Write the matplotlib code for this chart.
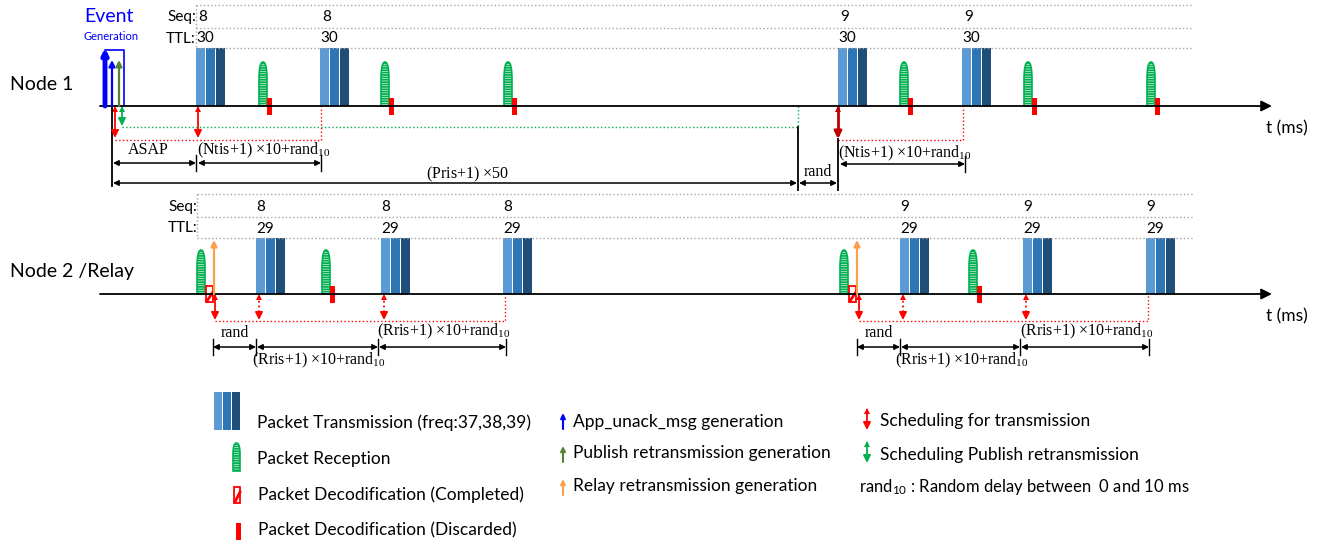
import matplotlib
matplotlib.use('Agg')
import matplotlib.pyplot as plt
from matplotlib.patches import Rectangle, PathPatch
from matplotlib.path import Path

# ---------------- data (event times on the diagram time axis) ----------------
node1_tx = [196, 320, 838, 962]          # packet transmissions node 1
node1_seq = ['8', '8', '9', '9']
node1_ttl = ['30', '30', '30', '30']
node1_rx = [259, 381, 504, 900, 1024, 1147]   # receptions (discarded)
node2_tx = [256, 381, 503, 900, 1023, 1146]
node2_seq = ['8', '8', '8', '9', '9', '9']
node2_ttl = ['29', '29', '29', '29', '29', '29']
node2_rx = [197, 322, 840, 969]
node2_rx_kept = [True, False, True, False]
freq_labels = ['37', '38', '39']

SANS = ['Lato', 'DejaVu Sans']
SERIF = ['Liberation Serif', 'DejaVu Serif']
BAR_COLORS = ['#5B9BD5', '#2E75B6', '#1F4E79']
GREEN = '#00B050'
OLIVE = '#548235'
RED = '#FF0000'
DARKRED = '#C00000'
ORANGE = '#F9A04A'
BLUE = '#0000FF'
GREY = '#A6A6A6'
LEG_FS = 12.5

plt.rcParams['hatch.linewidth'] = 1.3

W, H = 1328, 544
fig = plt.figure(figsize=(W / 100, H / 100), dpi=100)
ax = fig.add_axes([0, 0, 1, 1])
ax.set_xlim(0, W)
ax.set_ylim(H, 0)
ax.axis('off')

Y1, Y2 = 106, 294   # timelines


def arrow(x0, y0, x1, y1, color, lw=1.2, style='-|>', ms=8, ls='-'):
    ax.annotate('', xy=(x1, y1), xytext=(x0, y0),
                arrowprops=dict(arrowstyle=style, color=color, lw=lw, ls=ls,
                                mutation_scale=ms, shrinkA=0, shrinkB=0))


def sched(x, y0, y1, color=RED, lw=1.3, ls='-'):
    ax.plot([x, x], [y0 + 2, y1 - 5], color=color, lw=lw, ls=ls)
    arrow(x, y1 - 7, x, y1, color, lw=lw, ms=11)
    ax.plot([x], [y0 + 3], marker='^', ms=5, color=color, mew=0)


def burst(x, ytop, ybot):
    for i, c in enumerate(BAR_COLORS):
        ax.bar(x + i * 10, ybot - ytop, width=9.2, bottom=ytop, align='edge',
               color=c, edgecolor='none')


def reception(x, yb, h, w=8):
    yt = yb - h
    ys = yt + 0.4 * h
    verts = [(x, yb), (x, ys), (x, yt), (x + w / 2, yt), (x + w, yt), (x + w, ys),
             (x + w, yb), (x, yb)]
    codes = [Path.MOVETO, Path.LINETO, Path.CURVE3, Path.CURVE3, Path.CURVE3,
             Path.CURVE3, Path.LINETO, Path.CLOSEPOLY]
    ax.add_patch(PathPatch(Path(verts, codes), facecolor='white', edgecolor=GREEN,
                           hatch='-------', lw=1.2))


def discard(x, yc):
    ax.add_patch(Rectangle((x, yc - 8), 4.5, 17, color=RED, lw=0))


def decoded(x, yc):
    ax.add_patch(Rectangle((x, yc - 8), 7, 16, facecolor='white', edgecolor=RED, lw=1.3))
    ax.plot([x + 1, x + 7], [yc + 7, yc - 2], color=RED, lw=2)


def dim(x0, x1, y, tick=(True, True)):
    arrow(x0, y, x1, y, 'black', lw=1.1, style='<|-|>', ms=8)
    for flag, xx in zip(tick, (x0, x1)):
        if flag:
            ax.plot([xx, xx], [y - 8, y + 8], color='black', lw=1)


# ---------------- node labels, timelines ----------------
ax.text(10, 85, 'Node 1', fontsize=14, family=SANS, va='center')
ax.text(10, 271, 'Node 2 /Relay', fontsize=14, family=SANS, va='center')
for yl in (Y1, Y2):
    arrow(100, yl, 1272, yl, 'black', lw=1.3, ms=16)
ax.text(1266, Y1 + 22, 't (ms)', fontsize=12.5, family=SANS, va='center')
ax.text(1266, Y2 + 22, 't (ms)', fontsize=12.5, family=SANS, va='center')

# dotted Seq/TTL boxes
for (xl, ys) in ((196, (5, 28, 48)), (197, (194, 217, 238))):
    for yy in ys:
        ax.plot([xl, 1193], [yy, yy], color=GREY, lw=1, ls=':')
    ax.plot([xl, xl], [ys[0], ys[2]], color=GREY, lw=1, ls=':')
ax.text(196, 17, 'Seq:', ha='right', va='center', fontsize=11, family=SANS)
ax.text(196, 39, 'TTL:', ha='right', va='center', fontsize=11, family=SANS)
ax.text(197, 207, 'Seq:', ha='right', va='center', fontsize=11, family=SANS)
ax.text(197, 228, 'TTL:', ha='right', va='center', fontsize=11, family=SANS)

# ---------------- Node 1 ----------------
for x, s, t in zip(node1_tx, node1_seq, node1_ttl):
    burst(x, 48, Y1)
    ax.text(x + 2, 17, s, va='center', fontsize=11, family=SANS)
    ax.text(x, 38, t, va='center', fontsize=11, family=SANS)
for x in node1_rx:
    reception(x, Y1, 44)
    discard(x + 8, Y1)

# event generation
ax.text(84, 16, 'Event', color=BLUE, fontsize=14, family=SANS, va='center')
ax.text(84, 37, 'Generation', color=BLUE, fontsize=8, family=SANS, va='center')
ax.plot([105, 124, 124], [50, 50, Y1], color=BLUE, lw=1.2)
arrow(105, Y1, 105, 48, BLUE, lw=3.5, ms=8)
arrow(112, Y1, 112, 60, BLUE, lw=1.6, ms=9)
arrow(119, Y1, 119, 60, OLIVE, lw=1.6, ms=9)

# scheduling node 1
sched(115, Y1, 138)
sched(198, Y1, 138)
ax.plot([115, 321, 321], [140, 140, Y1], color=RED, lw=1, ls=':')
sched(122, Y1, 126, color=GREEN)
ax.plot([122, 798, 798], [127, 127, Y1], color=GREEN, lw=1, ls=':')
sched(838, Y1, 139, color=DARKRED, lw=2)
ax.plot([838, 963, 963], [140, 140, Y1], color=RED, lw=1, ls=':')

# black reference lines and dimensions node 1
ax.plot([112, 112], [Y1, 186], color='black', lw=1.3)
ax.plot([798, 798], [127, 190], color='black', lw=1.3)
ax.plot([838, 838], [139, 190], color='black', lw=1.3)
dim(113, 196, 163, tick=(False, True))
dim(198, 321, 163, tick=(False, True))
ax.text(148, 150, 'ASAP', fontsize=11.5, family=SERIF, ha='center', va='center')
ax.text(197, 150, r'(Ntis+1) $\mathregular{\times}$10+rand$\mathregular{_{10}}$',
        fontsize=11.5, family=SERIF, va='center')
dim(113, 797, 183, tick=(False, False))
ax.text(467, 174, r'(Pris+1) $\mathregular{\times}$50', fontsize=11.5, family=SERIF,
        ha='center', va='center')
dim(799, 837, 183, tick=(False, False))
ax.text(818, 172, 'rand', fontsize=11.5, family=SERIF, ha='center', va='center')
dim(840, 965, 164, tick=(False, True))
ax.text(838, 153, r'(Ntis+1) $\mathregular{\times}$10+rand$\mathregular{_{10}}$',
        fontsize=11.5, family=SERIF, va='center')

# ---------------- Node 2 ----------------
for x, s, t in zip(node2_tx, node2_seq, node2_ttl):
    burst(x, 238, Y2)
    ax.text(x + 5, 207, s, ha='center', va='center', fontsize=11, family=SANS)
    ax.text(x, 229, t, va='center', fontsize=11, family=SANS)
for x, kept in zip(node2_rx, node2_rx_kept):
    reception(x, Y2, 44)
    if kept:
        decoded(x + 9, Y2)
        arrow(x + 17, Y2, x + 17, 240, ORANGE, lw=1.6, ms=9)
    else:
        discard(x + 8, Y2)

for start, txs in ((215, node2_tx[:3]), (859, node2_tx[3:])):
    sched(start, Y2, 320)
    sched(txs[0] + 3, Y2, 320, ls=':')
    sched(txs[1] + 3, Y2, 320, ls=':')
    ax.plot([start, txs[2] + 2, txs[2] + 2], [321, 321, Y2], color=RED, lw=1, ls=':')
    r0 = start - 2
    dim(r0, txs[0], 347)
    dim(txs[0] + 1, txs[1] - 3, 347, tick=(False, True))
    dim(txs[1] - 2, txs[2] + 3, 347, tick=(False, True))
    ax.text((r0 + txs[0]) / 2, 333, 'rand', fontsize=11.5, family=SERIF,
            ha='center', va='center')
    ax.text((txs[0] + txs[1]) / 2, 360,
            r'(Rris+1) $\mathregular{\times}$10+rand$\mathregular{_{10}}$',
            fontsize=11.5, family=SERIF, ha='center', va='center')
    ax.text((txs[1] + txs[2]) / 2 + 2, 331,
            r'(Rris+1) $\mathregular{\times}$10+rand$\mathregular{_{10}}$',
            fontsize=11.5, family=SERIF, ha='center', va='center')

# ---------------- legend ----------------
for i, c in enumerate(BAR_COLORS):
    ax.bar(214 + i * 9, 38, width=8.2, bottom=392, align='edge', color=c)
ax.text(257, 423, 'Packet Transmission (freq:%s)' % ','.join(freq_labels),
        fontsize=LEG_FS, family=SANS, va='center')
reception(233, 471, 28, w=7)
ax.text(257, 459, 'Packet Reception', fontsize=LEG_FS, family=SANS, va='center')
ax.add_patch(Rectangle((234, 487), 6, 16, facecolor='white', edgecolor=RED, lw=1.3))
ax.plot([235, 240], [502, 492], color=RED, lw=2)
ax.text(258, 495, 'Packet Decodification (Completed)', fontsize=LEG_FS, family=SANS,
        va='center')
ax.add_patch(Rectangle((236, 523), 4.5, 17, color=RED, lw=0))
ax.text(258, 530, 'Packet Decodification (Discarded)', fontsize=LEG_FS, family=SANS,
        va='center')

arrow(563, 429, 563, 413, BLUE, lw=1.5, ms=7)
ax.text(573, 422, 'App_unack_msg generation', fontsize=LEG_FS, family=SANS, va='center')
arrow(563, 462, 563, 446, OLIVE, lw=1.5, ms=7)
ax.text(573, 453, 'Publish retransmission generation', fontsize=LEG_FS, family=SANS,
        va='center')
arrow(563, 495, 563, 479, ORANGE, lw=1.5, ms=7)
ax.text(573, 486, 'Relay retransmission generation', fontsize=LEG_FS, family=SANS,
        va='center')

sched(867, 408, 430)
ax.text(880, 421, 'Scheduling for transmission', fontsize=LEG_FS, family=SANS, va='center')
sched(867, 441, 463, color=GREEN)
ax.text(880, 455, 'Scheduling Publish retransmission', fontsize=LEG_FS, family=SANS,
        va='center')
ax.text(859, 487, r'rand$\mathregular{_{10}}$ : Random delay between  0 and 10 ms',
        fontsize=12, family=SANS, va='center')

fig.savefig('out.png', dpi=100)
